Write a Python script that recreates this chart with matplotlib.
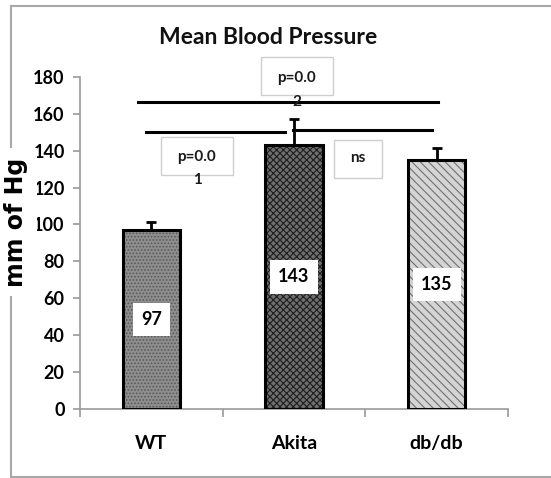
import matplotlib.pyplot as plt
from matplotlib.patches import Rectangle
from matplotlib.lines import Line2D

plt.rcParams['font.family'] = ['Lato', 'DejaVu Sans']
plt.rcParams['hatch.linewidth'] = 0.8

groups = ['WT', 'Akita', 'db/db']
means = [97, 143, 135]
errors = [4.5, 14, 6.5]
fills = ['#8e8e8e', '#6e6e6e', '#d4d4d4']
hatches = ['.....', 'xxxxx', '\\\\\\\\']
hatch_cols = ['#5a5a5a', '#1e1e1e', '#707070']

# significance lines: (x start, x end, y)
sig_lines = [(-0.094, 2.009, 166.5), (-0.038, 0.937, 150.2), (0.993, 1.967, 151.3)]
# annotation boxes: (x0, x1, y0, y1, text, text y, extra line, extra y)
sig_boxes = [(0.768, 1.273, 170.0, 190.6, 'p=0.0', 179.7, '2', 166.7),
             (0.068, 0.572, 126.9, 147.7, 'p=0.0', 136.7, '1', 124.2),
             (1.280, 1.616, 125.4, 146.0, 'ns', 136.2, '', 0)]

fig = plt.figure(figsize=(5.51, 4.78), dpi=100)
ax = fig.add_axes([80/551, 1-408.7/478, 428/551, 331.7/478])

x = list(range(len(groups)))
for i in x:
    ax.bar(i, means[i], width=0.4, color=fills[i], edgecolor=hatch_cols[i],
           linewidth=0, hatch=hatches[i], zorder=2)
ax.bar(x, means, width=0.4, fill=False, edgecolor='black', linewidth=2.2, zorder=3)
ax.errorbar(x, means, yerr=[[0]*len(errors), errors], fmt='none', ecolor='black',
            elinewidth=2, capsize=3.5, capthick=2, zorder=4)

for i in x:
    ax.text(i, means[i] / 2, str(means[i]), ha='center', va='center', fontsize=13,
            fontweight='bold', zorder=5,
            bbox=dict(boxstyle='square,pad=0.45', facecolor='white', edgecolor='none'))

for x0, x1, y in sig_lines:
    ax.plot([x0, x1], [y, y], color='black', linewidth=2.2, zorder=4, clip_on=False)

for x0, x1, y0, y1, t, ty, extra, ey in sig_boxes:
    ax.add_patch(Rectangle((x0, y0), x1 - x0, y1 - y0, facecolor='white',
                           edgecolor='#cfcfcf', linewidth=1, zorder=3, clip_on=False))
    ax.text((x0 + x1) / 2, ty, t, ha='center', va='center', fontsize=11,
            fontweight='bold', color='#1a1a1a', zorder=6, clip_on=False)
    if extra:
        ax.text((x0 + x1) / 2, ey, extra, ha='center', va='center', fontsize=11,
                fontweight='bold', color='#1a1a1a', zorder=6, clip_on=False)

ax.set_xlim(-0.5, 2.5)
ax.set_ylim(0, 180)
ax.set_yticks(range(0, 181, 20))
ax.set_xticks([-0.5, 0.5, 1.5, 2.5])
ax.set_xticklabels([])
ax.set_xticks(x, minor=True)
ax.set_xticklabels(groups, minor=True)
ax.tick_params(axis='x', which='minor', length=0, pad=19, labelsize=14)
ax.tick_params(axis='x', which='major', direction='out', length=6, color='#9a9a9a', width=1.2)
ax.tick_params(axis='y', direction='out', length=5, color='#9a9a9a', width=1.2,
               labelsize=13, pad=6)
for lab in ax.get_xticklabels(minor=True) + ax.get_yticklabels():
    lab.set_fontweight('bold')
for side in ['top', 'right']:
    ax.spines[side].set_visible(False)
for side in ['left', 'bottom']:
    ax.spines[side].set_color('#9a9a9a')
    ax.spines[side].set_linewidth(1.2)

fig.text(268/551, 1-38/478, 'Mean Blood Pressure', ha='center', va='center',
         fontsize=16.5, fontweight='bold', color='#111111')

# outer frame
fc = '#a8a8a8'
fig.add_artist(Line2D([10.5/551, 10.5/551], [1-6/478, 1-476.5/478], color=fc, lw=1.5))
fig.add_artist(Line2D([10.5/551, 1], [1-6/478, 1-6/478], color=fc, lw=1.5))
fig.add_artist(Line2D([10.5/551, 1], [1-476.5/478, 1-476.5/478], color=fc, lw=1.5))
fig.text(16/551, 1-222/478, 'mm of Hg', rotation=90, ha='center', va='center',
         fontsize=17, fontweight='bold', zorder=10, family=['DejaVu Sans'],
         bbox=dict(boxstyle='square,pad=0.4', facecolor='white', edgecolor='none'))

fig.savefig('out.png', dpi=100)
